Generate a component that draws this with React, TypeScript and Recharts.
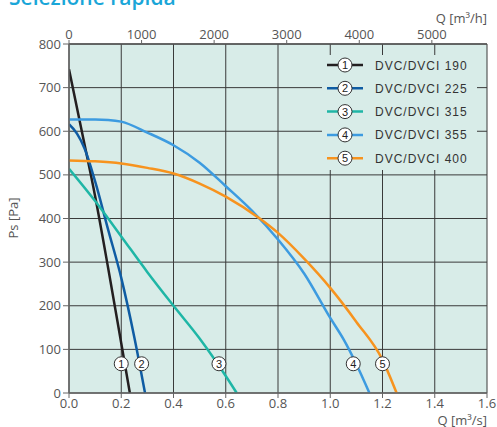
import {
  LineChart,
  Line,
  XAxis,
  YAxis,
  CartesianGrid,
  ReferenceDot,
  Legend,
} from "recharts";

// axis ticks
const qTicks = [0, 0.2, 0.4, 0.6, 0.8, 1.0, 1.2, 1.4, 1.6];
const hTicks = [0, 1000, 2000, 3000, 4000, 5000];
const psTicks = [0, 100, 200, 300, 400, 500, 600, 700, 800];

const models = ["DVC/DVCI 190", "DVC/DVCI 225", "DVC/DVCI 315", "DVC/DVCI 355", "DVC/DVCI 400"];
const seriesColors = ["#231f20", "#0f5ca3", "#1fb6a6", "#3d9be0", "#f7931e"];

// fan curves, Q [m3/s] vs Ps [Pa]
const q190 = [0, 0.05, 0.1, 0.15, 0.2, 0.233];
const ps190 = [742, 597, 451, 286, 114, 0];

const q225 = [0, 0.03, 0.06, 0.1, 0.15, 0.2, 0.25, 0.291];
const ps225 = [616, 595, 560, 485, 374, 264, 128, 0];

const q315 = [0, 0.1, 0.2, 0.3, 0.4, 0.5, 0.6, 0.642];
const ps315 = [514, 440, 359, 277, 200, 125, 39, 0];

const q355 = [0, 0.1, 0.15, 0.2, 0.3, 0.4, 0.5, 0.6, 0.7, 0.8, 0.9, 1.0, 1.05, 1.1, 1.15];
const ps355 = [627, 627, 626, 622, 597, 568, 528, 474, 418, 352, 274, 172, 124, 66, 0];

const q400 = [0, 0.1, 0.2, 0.3, 0.4, 0.5, 0.6, 0.73, 0.8, 0.9, 1.0, 1.1, 1.2, 1.254];
const ps400 = [533, 531, 526, 516, 503, 480, 450, 400, 367, 308, 241, 163, 76, 0];

// numbered markers on the curves
const markerQ = [0.2, 0.278, 0.574, 1.088, 1.2];
const markerPs = [67, 67, 67, 67, 67];

const toPoints = (qs: number[], ps: number[]) => qs.map((q, i) => ({ q, ps: ps[i] }));

const series = [
  toPoints(q190, ps190),
  toPoints(q225, ps225),
  toPoints(q315, ps315),
  toPoints(q355, ps355),
  toPoints(q400, ps400),
].map((data, i) => ({ data, name: models[i], color: seriesColors[i] }));

// 1 m3/s = 3600 m3/h, top axis spans the same range as the bottom one
const hRange = hTicks.map((h) => ({ h }));

const BG = "#d8ece8";
const TEXT = "#555";

const tickStyle = { fill: TEXT, fontSize: 13, fontFamily: "Open Sans" };

function LegendBox() {
  return (
    <svg width={155} height={115} style={{ display: "block" }}>
      <rect x={0} y={0} width={155} height={115} fill={BG} />
      {series.map((s, i) => {
        const y = 10 + i * 23.3;
        return (
          <g key={s.name}>
            <line x1={5} x2={41} y1={y} y2={y} stroke={s.color} strokeWidth={2.5} />
            <circle cx={23} cy={y} r={7} fill="#fff" stroke="#333" strokeWidth={1} />
            <text x={23} y={y + 4} textAnchor="middle" fontSize={11} fill="#222" fontFamily="Liberation Sans">
              {i + 1}
            </text>
            <text x={53} y={y + 4.5} fontSize={12} letterSpacing={1} fill="#333" fontFamily="Liberation Sans">
              {s.name}
            </text>
          </g>
        );
      })}
    </svg>
  );
}

export default function App() {
  return (
    <div style={{ position: "absolute", left: 0, top: 0, width: 497, height: 427, background: "#fff" }}>
      <LineChart width={497} height={427} data={hRange} margin={{ top: 0, right: 10, bottom: 0, left: 0 }}>
        <CartesianGrid xAxisId="q" fill={BG} stroke="#3a3a3a" strokeWidth={1} />
        <XAxis
          xAxisId="q"
          type="number"
          dataKey="q"
          domain={[0, 1.6]}
          allowDataOverflow
          ticks={qTicks}
          tickFormatter={(v: number) => v.toFixed(1)}
          height={34}
          tickSize={5}
          tickMargin={1}
          tick={tickStyle}
          axisLine={{ stroke: "#666", strokeWidth: 1.5 }}
          tickLine={{ stroke: "#666" }}
          interval={0}
        />
        <XAxis
          xAxisId="h"
          orientation="top"
          type="number"
          dataKey="h"
          domain={[0, 1.6 * 3600]}
          allowDataOverflow
          ticks={hTicks}
          height={44}
          tickSize={4}
          tickMargin={1}
          tick={tickStyle}
          axisLine={{ stroke: "#555", strokeWidth: 1.5 }}
          tickLine={{ stroke: "#666" }}
          interval={0}
        />
        <YAxis
          type="number"
          domain={[0, 800]}
          ticks={psTicks}
          width={69}
          tickSize={6}
          tickMargin={2}
          tick={tickStyle}
          axisLine={{ stroke: "#666", strokeWidth: 1.5 }}
          tickLine={{ stroke: "#666" }}
          interval={0}
        />
        {series.map((s) => (
          <Line
            key={s.name}
            xAxisId="q"
            data={s.data}
            dataKey="ps"
            name={s.name}
            type="monotone"
            stroke={s.color}
            strokeWidth={2.5}
            dot={false}
            activeDot={false}
            isAnimationActive={false}
          />
        ))}
        {markerQ.map((q, i) => (
          <ReferenceDot
            key={i}
            xAxisId="q"
            x={q}
            y={markerPs[i]}
            r={7}
            fill="#fff"
            stroke="#333"
            strokeWidth={1}
            label={{ value: String(i + 1), position: "center", fontSize: 11, fill: "#222", fontFamily: "Liberation Sans" }}
          />
        ))}
        <Legend
          layout="vertical"
          align="center"
          verticalAlign="middle"
          content={() => <LegendBox />}
          wrapperStyle={{ left: 322, top: 55, width: 155, height: 115 }}
        />
      </LineChart>
      <svg
        width={497}
        height={427}
        style={{ position: "absolute", left: 0, top: 0, pointerEvents: "none" }}
      >
        <text x={9} y={5} fontSize={21} fontWeight={600} fill="#1aa6d8" fontFamily="Open Sans">
          Selezione rapida
        </text>
        <text x={487} y={23} textAnchor="end" fontSize={13} fill={TEXT} fontFamily="Open Sans">
          Q [m³/h]
        </text>
        <text x={487} y={425} textAnchor="end" fontSize={13} fill={TEXT} fontFamily="Open Sans">
          Q [m³/s]
        </text>
        <text
          x={13}
          y={218}
          transform="rotate(-90 13 218)"
          textAnchor="middle"
          dominantBaseline="central"
          fontSize={13}
          fill={TEXT}
          fontFamily="Open Sans"
        >
          Ps [Pa]
        </text>
      </svg>
    </div>
  );
}
